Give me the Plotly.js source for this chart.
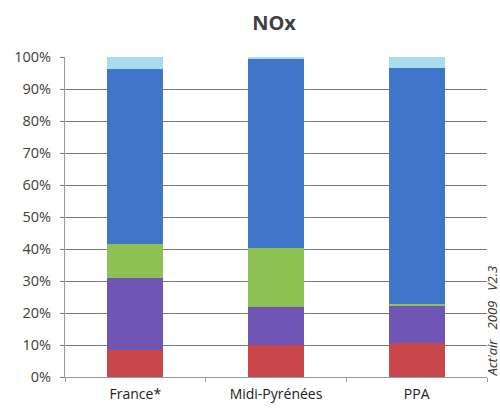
<!DOCTYPE html>
<html>
<head>
<meta charset="utf-8">
<script src="https://cdn.plot.ly/plotly-3.0.1.min.js"></script>
<style>html,body{margin:0;padding:0;background:#fff}#chart{width:500px;height:408px}</style>
</head>
<body>
<div id="chart"></div>
<script>
const categories = ["France*", "Midi-Pyrénées", "PPA"];
const seriesRed = [8.4, 10.0, 10.5];
const seriesPurple = [22.5, 12.0, 11.6];
const seriesGreen = [10.7, 18.4, 0.7];
const seriesBlue = [54.6, 59.0, 73.8];
const seriesLightBlue = [3.8, 0.6, 3.4];
const yTickVals = [0, 10, 20, 30, 40, 50, 60, 70, 80, 90, 100];
const yTickText = ["0%", "10%", "20%", "30%", "40%", "50%", "60%", "70%", "80%", "90%", "100%"];

const colors = ["#c9474a", "#7055b4", "#8dc152", "#3f76c9", "#a9dcec"];
const series = [seriesRed, seriesPurple, seriesGreen, seriesBlue, seriesLightBlue];

const traces = series.map((s, i) => ({
  type: "bar",
  x: categories,
  y: s,
  marker: {color: colors[i], line: {width: 0}},
  width: 0.4,
  hoverinfo: "none",
  showlegend: false
}));

const layout = {
  width: 500,
  height: 408,
  barmode: "stack",
  paper_bgcolor: "#ffffff",
  plot_bgcolor: "#ffffff",
  margin: {l: 65, r: 13, t: 57, b: 31},
  font: {family: "Open Sans, sans-serif", color: "#404040", size: 12},
  title: {
    text: "<b>NOx</b>",
    x: 0.548, xanchor: "center",
    y: 0.944, yanchor: "middle",
    font: {size: 20, color: "#404040", family: "Open Sans, sans-serif"}
  },
  xaxis: {
    type: "category",
    showline: true, linecolor: "#9a9a9a", linewidth: 1,
    ticks: "outside", ticklen: 4, tickcolor: "#9a9a9a",
    tickson: "boundaries",
    showgrid: false,
    ticklabelstandoff: 4,
    tickfont: {size: 14, color: "#202020"}
  },
  yaxis: {
    range: [0, 100],
    tickvals: yTickVals,
    ticktext: yTickText,
    showline: true, linecolor: "#9a9a9a", linewidth: 1,
    ticks: "outside", ticklen: 4, tickcolor: "#7a7a7a",
    showgrid: true, gridcolor: "#7a7a7a", gridwidth: 1,
    zeroline: false,
    ticklabelstandoff: 6,
    tickfont: {size: 14.5, color: "#404040"}
  },
  annotations: [{
    text: "<i>Act'air&nbsp;&nbsp;&nbsp;2009&nbsp;&nbsp;&nbsp;V2.3</i>",
    xref: "paper", yref: "paper",
    x: 1.013, y: -0.005, xanchor: "center", yanchor: "bottom",
    textangle: -90, showarrow: false,
    font: {size: 13, color: "#303030", family: "Open Sans, sans-serif"}
  }]
};

Plotly.newPlot("chart", traces, layout, {displayModeBar: false, staticPlot: true});
</script>
</body>
</html>
